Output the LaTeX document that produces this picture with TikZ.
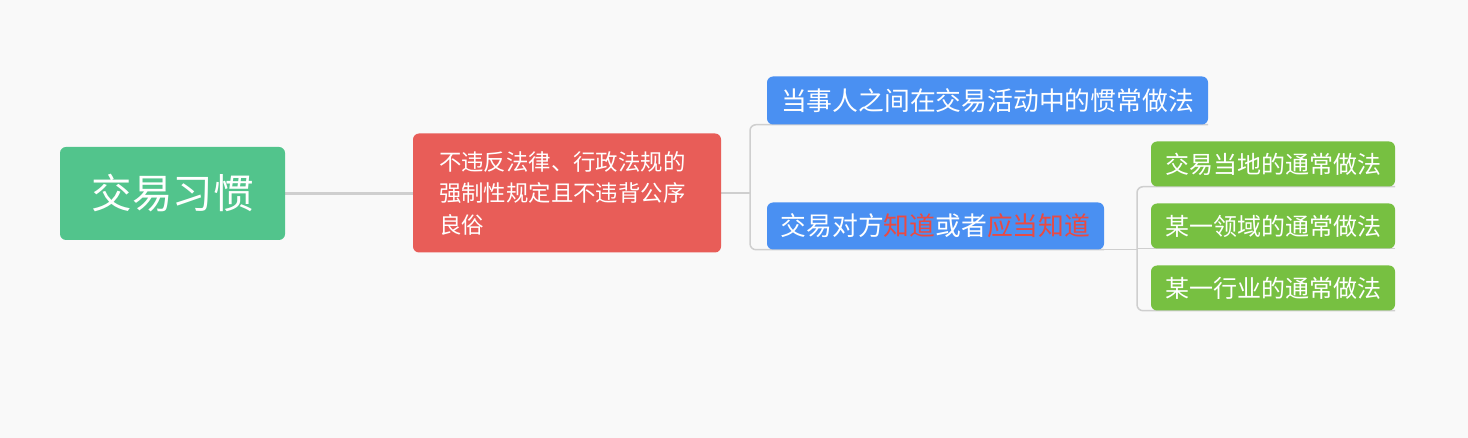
\documentclass[tikz,border=0pt]{standalone}
\usepackage{fontspec}
\setmainfont{Noto Sans CJK SC}
\usepackage{xcolor}
\usepackage{tikz}
\usetikzlibrary{backgrounds}

\definecolor{bggray}{HTML}{F9F9F9}
\definecolor{linkgray}{HTML}{CFCFCF}
\definecolor{rootgreen}{HTML}{52C48C}
\definecolor{condred}{HTML}{E85D58}
\definecolor{usageblue}{HTML}{4A90F2}
\definecolor{leafgreen}{HTML}{77C041}
\definecolor{hlred}{HTML}{EA4A42}

\begin{document}
\begin{tikzpicture}[x=1pt, y=-1pt]
    % Define styles
    \tikzstyle{topic}=[rounded corners=6pt, text=white, inner sep=0pt, align=center]
    \tikzstyle{link}=[draw=linkgray, line width=1.5pt, rounded corners=6pt]

    % Draw the topics
    \node[topic, fill=rootgreen, minimum width=225pt, minimum height=93pt, font=\fontsize{40.5}{48}\selectfont] (root) at (172.5,193.5) {交易习惯};
    \node[topic, fill=condred, minimum width=308pt, minimum height=119pt, text width=256pt, align=left, font=\fontsize{22.4}{31.5}\selectfont] (cond) at (567,193) {不违反法律、行政法规的\\强制性规定且不违背公序\\良俗};
    \node[topic, fill=usageblue, minimum width=441pt, minimum height=48pt, font=\fontsize{25.8}{30}\selectfont] (practice) at (987.5,100.5) {当事人之间在交易活动中的惯常做法};
    \node[topic, fill=usageblue, minimum width=337pt, minimum height=47pt, font=\fontsize{25.8}{30}\selectfont] (aware) at (935.5,226) {交易对方\textcolor{hlred}{知道}或者\textcolor{hlred}{应当知道}};

    % Draw the leaves
    \foreach \name/\y/\txt in {local/164/交易当地的通常做法, field/226/某一领域的通常做法, trade/288/某一行业的通常做法}
        \node[topic, fill=leafgreen, minimum width=244pt, minimum height=45pt, font=\fontsize{24}{28}\selectfont] (\name) at (1273,\y) {\txt};

    % Draw the links behind the topics
    \begin{pgfonlayer}{background}
        \fill[bggray] (0,0) rectangle (1468,438);
        \coordinate (fork1) at (750,193);
        \coordinate (fork2) at (1137,249);
        \draw[link, line width=2.5pt] (root.east) -- (root.east -| cond.west);
        \draw[link] (cond.east) -- (cond.east -| fork1);
        \draw[link] (practice.south east) -- (practice.south east -| fork1) -- (aware.south east -| fork1) -- (aware.south east);
        \draw[link] (aware.south east) -- (aware.south east -| fork2);
        \draw[link] (local.south east) -- (local.south east -| fork2) -- (trade.south east -| fork2) -- (trade.south east);
        \draw[link] (field.south east) -- (field.south east -| fork2);
    \end{pgfonlayer}
\end{tikzpicture}
\end{document}
